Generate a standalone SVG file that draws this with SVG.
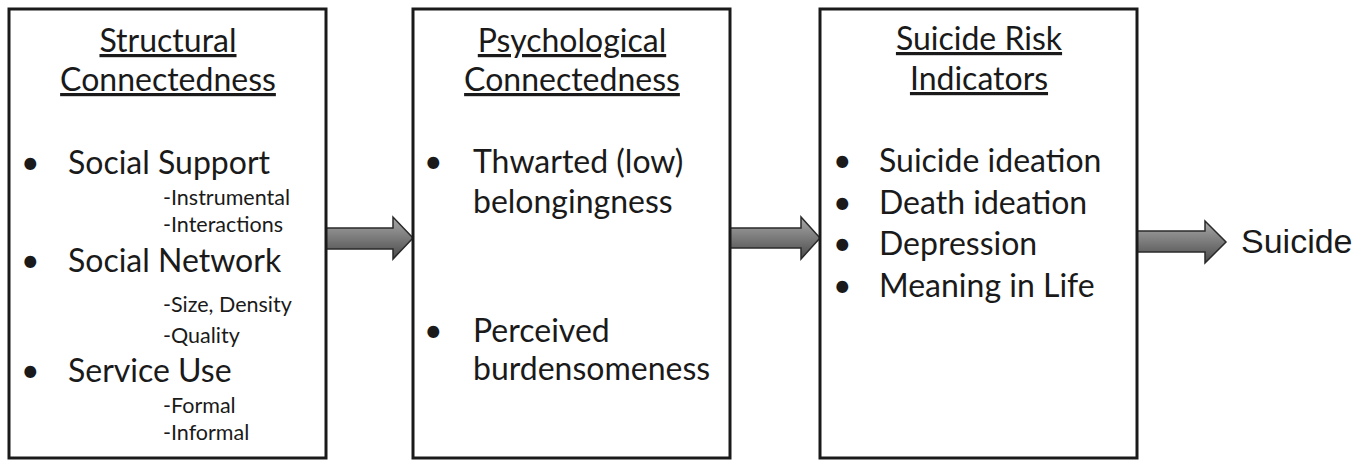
<svg xmlns="http://www.w3.org/2000/svg" width="1370" height="460" viewBox="0 0 1370 460">
<defs>
<linearGradient id="ag" x1="0" y1="0" x2="0" y2="1">
<stop offset="0" stop-color="#a8a8a8"/>
<stop offset="0.5" stop-color="#7a7a7a"/>
<stop offset="1" stop-color="#4a4a4a"/>
</linearGradient>
<style>
.box{fill:#fff;stroke:#1a1a1a;stroke-width:3}
.t{font-family:Lato,"Open Sans",sans-serif;fill:#1a1a1a}
.title{font-size:32px;text-anchor:middle;text-decoration:underline}
.item{font-size:32px}
.sub{font-size:21.5px}
.arrow{fill:url(#ag);stroke:#2a2a2a;stroke-width:1.5;stroke-linejoin:miter}
.out{font-family:"Liberation Sans",Arial,sans-serif;font-size:34px;fill:#1a1a1a}
</style>
</defs>
<rect width="1370" height="460" fill="#fff"/>
<g id="connectors">
<path class="arrow" d="M326,228 H393 V217 L413,238 L393,259 V249 H326 Z"/>
<path class="arrow" d="M730,228 H801 V217 L820,238 L801,259 V248 H730 Z"/>
<path class="arrow" d="M1137,231 H1205 V221 L1226,242 L1205,263 V252 H1137 Z"/>
</g>
<g id="structural">
<rect class="box" x="9" y="9" width="317" height="449"/>
<text class="t title" x="168" y="52">Structural</text>
<text class="t title" x="168" y="91">Connectedness</text>
<text class="t item" x="21" y="174">•</text>
<text class="t item" x="68" y="174">Social Support</text>
<text class="t sub" x="163" y="205">-Instrumental</text>
<text class="t sub" x="163" y="232">-Interactions</text>
<text class="t item" x="21" y="272">•</text>
<text class="t item" x="68" y="272">Social Network</text>
<text class="t sub" x="163" y="312">-Size, Density</text>
<text class="t sub" x="163" y="343">-Quality</text>
<text class="t item" x="21" y="382">•</text>
<text class="t item" x="68" y="382">Service Use</text>
<text class="t sub" x="163" y="413">-Formal</text>
<text class="t sub" x="163" y="440">-Informal</text>
</g>
<g id="psychological">
<rect class="box" x="413" y="9" width="317" height="449"/>
<text class="t title" x="572" y="52">Psychological</text>
<text class="t title" x="572" y="91">Connectedness</text>
<text class="t item" x="424" y="173">•</text>
<text class="t item" x="473" y="173">Thwarted (low)</text>
<text class="t item" x="473" y="213">belongingness</text>
<text class="t item" x="424" y="342">•</text>
<text class="t item" x="473" y="342">Perceived</text>
<text class="t item" x="473" y="380">burdensomeness</text>
</g>
<g id="risk">
<rect class="box" x="820" y="9" width="317" height="449"/>
<text class="t title" x="979" y="50">Suicide Risk</text>
<text class="t title" x="979" y="90">Indicators</text>
<text class="t item" x="833" y="172">•</text>
<text class="t item" x="879" y="172">Suicide ideation</text>
<text class="t item" x="833" y="214">•</text>
<text class="t item" x="879" y="214">Death ideation</text>
<text class="t item" x="833" y="255">•</text>
<text class="t item" x="879" y="255">Depression</text>
<text class="t item" x="833" y="297">•</text>
<text class="t item" x="879" y="297">Meaning in Life</text>
</g>
<g id="suicide">
<text class="out" x="1241" y="253">Suicide</text>
</g>
</svg>
